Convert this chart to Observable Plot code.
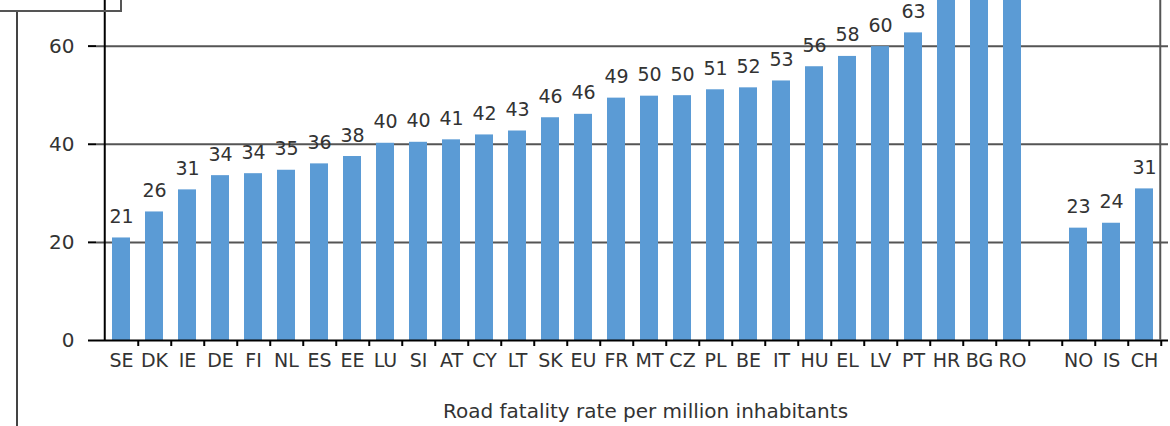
<!DOCTYPE html>
<html><head><meta charset="utf-8">
<script src="https://cdn.jsdelivr.net/npm/d3@7"></script>
<script src="https://cdn.jsdelivr.net/npm/@observablehq/plot@0.6"></script>
<style>
body{margin:0;background:#fff;}
#wrap{position:relative;width:1170px;height:426px;overflow:hidden;background:#fff;}
#wrap svg{position:absolute;left:0;top:0;}
.deco{position:absolute;z-index:2;}
</style></head><body>
<div id="wrap">
<div class="deco" style="left:0;top:0;width:120px;height:10px;border-right:2px solid #555;border-bottom:2px solid #555;"></div>
<div class="deco" style="left:16px;top:12px;width:2px;height:414px;background:#444;"></div>
</div>
<script>
// Data
const euCodes = ["SE","DK","IE","DE","FI","NL","ES","EE","LU","SI","AT","CY","LT","SK","EU","FR","MT","CZ","PL","BE","IT","HU","EL","LV","PT","HR","BG","RO"];
const euRates = [20.9,26.2,30.7,33.6,34.0,34.7,36.0,37.5,40.2,40.4,40.9,41.9,42.7,45.4,46.1,49.4,49.8,49.9,51.1,51.5,52.9,55.8,57.9,59.9,62.7,73,89,96];
const euLabels = ["21","26","31","34","34","35","36","38","40","40","41","42","43","46","46","49","50","50","51","52","53","56","58","60","63","73","89","96"];
const otherCodes = ["NO","IS","CH"];
const otherRates = [22.9,23.9,30.9];
const otherLabels = ["23","24","31"];
const gapKey = " ";
const yTicks = [0,20,40,60];
const yMax = 69.3;
const axisTitle = "Road fatality rate per million inhabitants";

const W = 1170, H = 426, mL = 96, mR = 2, mT = 0, mB = 86;
const domain = [...euCodes, gapKey, ...otherCodes];
const step = (W - mL - mR) / domain.length;
const data = [
  ...euCodes.map((c,i)=>({code:c, rate:euRates[i], label:euLabels[i]})),
  ...otherCodes.map((c,i)=>({code:c, rate:otherRates[i], label:otherLabels[i]}))
];
const font = "'DejaVu Sans', Verdana, sans-serif";

const chart = Plot.plot({
  width: W, height: H,
  marginLeft: mL, marginRight: mR, marginTop: mT, marginBottom: mB,
  style: {fontFamily: font, fontSize: "19px", color: "#333", background: "white", overflow: "visible"},
  x: {domain, paddingInner: 0.46, paddingOuter: 0.23, label: null},
  y: {domain: [0, yMax], label: null},
  marks: [
    Plot.gridY(yTicks.filter(d => d > 0), {stroke: "#555", strokeOpacity: 1, strokeWidth: 2}),
    Plot.barY(data, {x: "code", y: "rate", fill: "#5b9bd5", clip: true}),
    Plot.text(data.filter(d => d.rate < yMax - 4), {x: "code", y: "rate", text: "label", lineAnchor: "bottom", dy: -15, fill: "#333", fontSize: 19}),
    Plot.axisY({ticks: yTicks, tickSize: 8, tickPadding: 14, fontSize: 20, label: null, stroke: "#000", strokeWidth: 2}),
    Plot.axisX({tickSize: 0, tickPadding: 13, fontSize: 19, label: null}),
    Plot.ruleY([0], {stroke: "#000", strokeWidth: 2}),
    Plot.ruleX([domain[0]], {x: d => d, dx: -step/2, stroke: "#000", strokeWidth: 2}),
    Plot.ruleX([domain[domain.length-1]], {x: d => d, dx: step/2 - 1, stroke: "#555", strokeWidth: 2}),
    Plot.ruleX(domain, {x: d => d, dx: step/2, y1: 0, y2: 0, insetBottom: -6, stroke: "#000", strokeWidth: 2}),
    Plot.text([axisTitle], {text: d => d, frameAnchor: "bottom", dx: 13, dy: 77, lineAnchor: "bottom", fontSize: 20, fill: "#333"})
  ]
});
document.getElementById("wrap").appendChild(chart);
</script>
</body></html>
